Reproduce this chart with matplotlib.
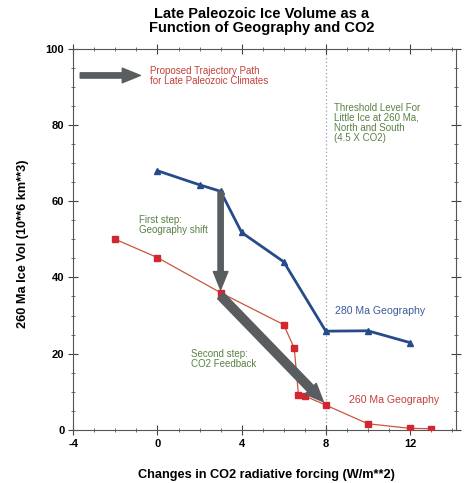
import matplotlib
matplotlib.use("Agg")
import matplotlib.pyplot as plt
from matplotlib.ticker import MultipleLocator

plt.rcParams['font.family'] = ['Liberation Sans', 'DejaVu Sans']
plt.rcParams['axes.unicode_minus'] = False

# CO2 radiative forcing (W/m**2) vs ice volume (10**6 km**3)
forcing_280 = [0, 2, 3, 4, 6, 8, 10, 12]
ice_280 = [68, 64.3, 62.6, 51.8, 44.1, 25.9, 26.0, 22.9]

forcing_260 = [-2, 0, 3, 6, 6.5, 6.7, 7.0, 8, 10, 12, 13]
ice_260 = [50.0, 45.2, 36.0, 27.6, 21.4, 9.2, 8.9, 6.5, 1.6, 0.4, 0.3]

threshold_forcing = 8
x_ticks = [-4, 0, 4, 8, 12]
y_ticks = [0, 20, 40, 60, 80, 100]

blue = '#274b8a'
red = '#d22630'
red_line = '#c8573a'
red_text = '#c2403a'
green_text = '#5a8045'
arrow_gray = '#5a5d60'

fig = plt.figure(figsize=(4.67, 4.83), dpi=100)
ax = fig.add_axes([0.157, 0.110, 0.820, 0.789])

ax.set_xlim(-4, 14.2)
ax.set_ylim(0, 100)

# threshold line
ax.axvline(threshold_forcing, color='#9a9aa8', lw=0.9, ls=(0, (1, 2)), zorder=1)

ax.plot(forcing_280, ice_280, color=blue, lw=2.0, marker='^', ms=4.5,
        mfc=blue, mec=blue, zorder=3)
ax.plot(forcing_260, ice_260, color=red_line, lw=0.9, marker='s', ms=5,
        mfc=red, mec=red, zorder=3)

# trajectory arrows: geography shift then CO2 feedback
thin_arrow = 'simple,head_width=1.05,head_length=1.3,tail_width=0.38'
thick_arrow = 'simple,head_width=1.1,head_length=1.3,tail_width=0.6'
i280 = forcing_280.index(3)
i260_start = forcing_260.index(3)
i260_end = forcing_260.index(8)
ax.annotate('', xy=(forcing_260[i260_start], ice_260[i260_start] + 0.8),
            xytext=(forcing_280[i280], ice_280[i280]),
            arrowprops=dict(arrowstyle=thin_arrow, color=arrow_gray,
                            shrinkA=0, shrinkB=0), zorder=4)
ax.annotate('', xy=(forcing_260[i260_end] - 0.12, ice_260[i260_end] + 0.9),
            xytext=(forcing_260[i260_start], ice_260[i260_start] - 0.8),
            arrowprops=dict(arrowstyle=thick_arrow, color=arrow_gray,
                            shrinkA=0, shrinkB=0), zorder=4)

# key arrow
ax.annotate('', xy=(0.175, 0.93), xytext=(0.018, 0.93), xycoords='axes fraction',
            arrowprops=dict(arrowstyle=thin_arrow, color=arrow_gray,
                            shrinkA=0, shrinkB=0))
ax.text(-0.35, 95.5, 'Proposed Trajectory Path\nfor Late Paleozoic Climates',
        color=red_text, fontsize=7, va='top', ha='left', linespacing=1.0)

ax.text(8.4, 85.8, 'Threshold Level For\nLittle Ice at 260 Ma,\nNorth and South\n(4.5 X CO2)',
        color=green_text, fontsize=7, va='top', ha='left', linespacing=1.0)
ax.text(-0.9, 56.4, 'First step:\nGeography shift',
        color=green_text, fontsize=7, va='top', ha='left', linespacing=1.0)
ax.text(1.6, 21.3, 'Second step:\nCO2 Feedback',
        color=green_text, fontsize=7, va='top', ha='left', linespacing=1.0)
ax.text(8.45, 31.3, '280 Ma Geography', color='#3a5a9a', fontsize=7.6,
        va='center', ha='left')
ax.text(9.1, 7.8, '260 Ma Geography', color=red_text, fontsize=7.6,
        va='center', ha='left')

ax.set_xticks(x_ticks)
ax.set_yticks(y_ticks)
ax.xaxis.set_minor_locator(MultipleLocator(1))
ax.yaxis.set_minor_locator(MultipleLocator(5))
ax.tick_params(which='major', direction='inout', length=7, width=0.8, color='#444',
               top=True, right=True, labelsize=8, pad=3)
ax.tick_params(which='minor', direction='inout', length=3.5, width=0.6, color='#555',
               top=True, right=True)
for lbl in ax.get_xticklabels() + ax.get_yticklabels():
    lbl.set_fontweight('bold')

for side in ['left', 'bottom', 'top', 'right']:
    ax.spines[side].set_color('#555')
    ax.spines[side].set_linewidth(0.8)

ax.set_xlabel('Changes in CO2 radiative forcing (W/m**2)', fontsize=9.2,
              fontweight='bold', va='center')
ax.xaxis.set_label_coords(0.503, -0.118)
ax.set_ylabel('260 Ma Ice Vol (10**6 km**3)', fontsize=9.2, fontweight='bold',
              va='center')
ax.yaxis.set_label_coords(-0.131, 0.488)

fig.text(0.56, 0.985, 'Late Paleozoic Ice Volume as a\nFunction of Geography and CO2',
         ha='center', va='top', fontsize=10.5, fontweight='bold', linespacing=1.0)

fig.savefig('out.png', dpi=100)
